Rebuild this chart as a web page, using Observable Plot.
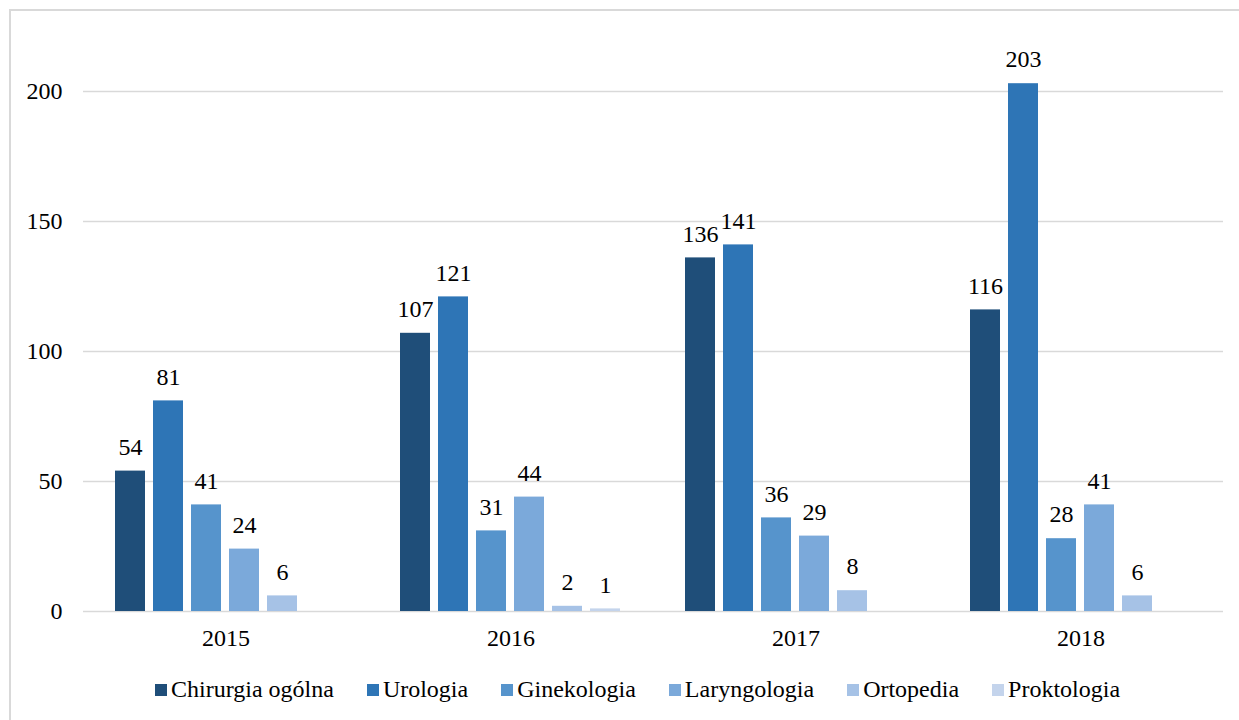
<!DOCTYPE html>
<html>
<head>
<meta charset="utf-8">
<script src="https://cdn.jsdelivr.net/npm/d3@7"></script>
<script src="https://cdn.jsdelivr.net/npm/@observablehq/plot@0.6"></script>
<style>
  html, body { margin: 0; padding: 0; background: #fff; overflow: hidden; }
  #frame {
    position: absolute; left: 9px; top: 9px; width: 1300px; height: 800px;
    border: 2px solid #d9d9d9; box-sizing: border-box;
  }
  #chart { position: absolute; left: 0; top: 0; }
  #legend {
    position: absolute; left: 155px; top: 676px;
    display: flex; align-items: center; gap: 33px;
    font-family: "Liberation Serif", "Times New Roman", serif; font-size: 24px; color: #000;
  }
  #legend .item { display: flex; align-items: center; gap: 4px; white-space: nowrap; }
  #legend .sw { width: 12px; height: 12px; display: inline-block; }
</style>
</head>
<body>
<div id="frame"></div>
<div id="chart"></div>
<div id="legend"></div>
<script>
// Years on the category axis
const years = ["2015", "2016", "2017", "2018"];
// Specialties (series)
const series = ["Chirurgia ogólna", "Urologia", "Ginekologia", "Laryngologia", "Ortopedia", "Proktologia"];
const colors = ["#1f4e79", "#2e75b6", "#5694cc", "#7ba9da", "#a6c2e6", "#c4d4ec"];
// Values per year, in series order (null = no procedures reported)
const v2015 = [54, 81, 41, 24, 6, null];
const v2016 = [107, 121, 31, 44, 2, 1];
const v2017 = [136, 141, 36, 29, 8, null];
const v2018 = [116, 203, 28, 41, 6, null];
const yTicks = [0, 50, 100, 150, 200];

const valuesByYear = [v2015, v2016, v2017, v2018];
const data = [];
years.forEach((year, i) => {
  valuesByYear[i].forEach((value, j) => {
    if (value != null) data.push({year, series: series[j], value});
  });
});

const font = `"Liberation Serif", "Times New Roman", serif`;

const chart = Plot.plot({
  width: 1239,
  height: 665,
  marginLeft: 83,
  marginRight: 16,
  marginTop: 39,
  marginBottom: 54,
  style: {fontFamily: font, fontSize: "24px", color: "#000", background: "transparent"},
  fx: {domain: years, padding: 0, label: null},
  x: {domain: series, paddingInner: 0.21, paddingOuter: 0.855, axis: null},
  y: {domain: [0, 220], label: null},
  color: {domain: series, range: colors},
  marks: [
    Plot.ruleY(yTicks, {stroke: "#d9d9d9", strokeWidth: 1.5}),
    Plot.axisY({ticks: yTicks, tickSize: 0, tickPadding: 21, label: null, fontSize: 24}),
    Plot.axisFx({anchor: "bottom", tickSize: 0, tickPadding: 17, label: null, fontSize: 24}),
    Plot.barY(data, {fx: "year", x: "series", y: "value", fill: "series"}),
    Plot.text(data, {fx: "year", x: "series", y: "value", text: d => String(d.value),
                     dy: -24, fontSize: 24, fill: "#000", lineAnchor: "middle"})
  ]
});
document.getElementById("chart").appendChild(chart);

const legend = d3.select("#legend");
series.forEach((s, i) => {
  const item = legend.append("div").attr("class", "item");
  item.append("span").attr("class", "sw").style("background", colors[i]);
  item.append("span").text(s);
});
</script>
</body>
</html>
